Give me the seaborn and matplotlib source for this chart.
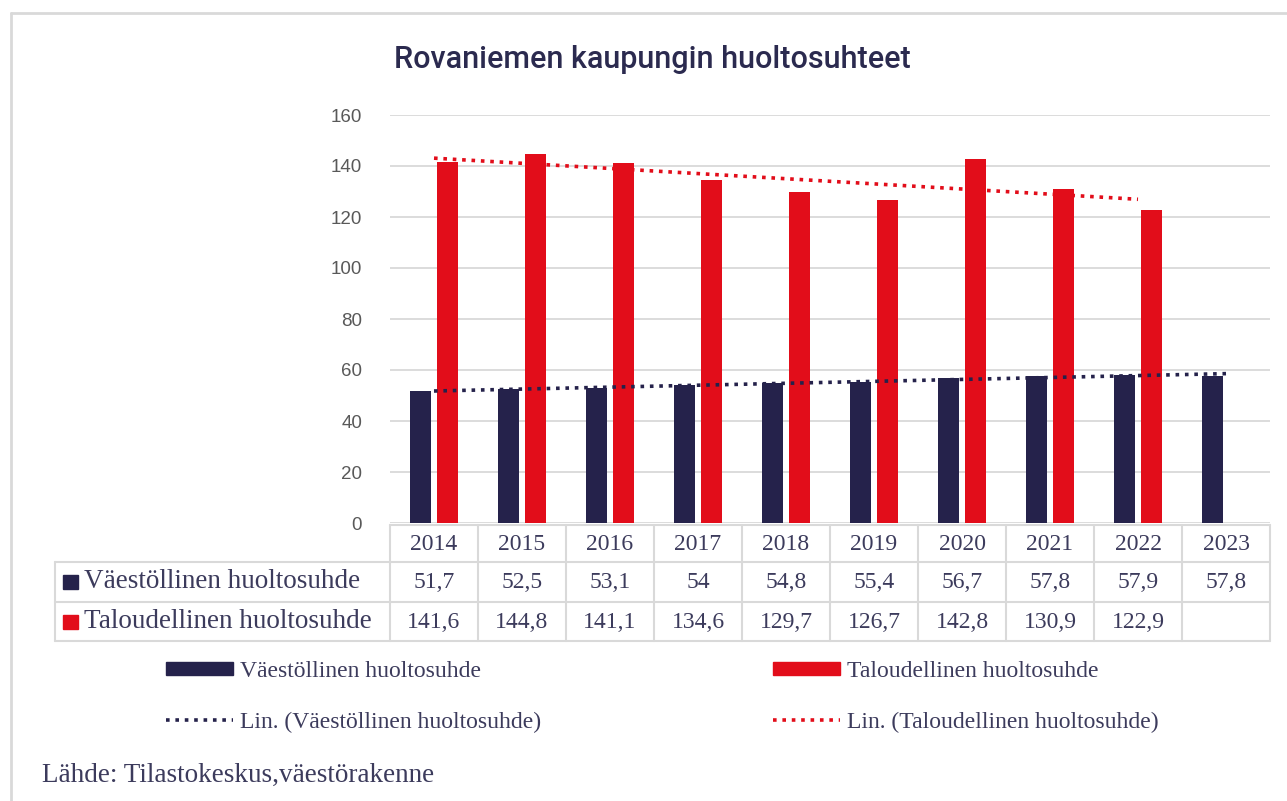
import numpy as np
import pandas as pd
import matplotlib
matplotlib.use("Agg")
import matplotlib.pyplot as plt
from matplotlib.transforms import blended_transform_factory
from matplotlib.patches import Rectangle, Patch
from matplotlib.lines import Line2D
import seaborn as sns

# ---- data ----
years = ["2014", "2015", "2016", "2017", "2018", "2019", "2020", "2021", "2022", "2023"]
vaestollinen = [51.7, 52.5, 53.1, 54.0, 54.8, 55.4, 56.7, 57.8, 57.9, 57.8]
taloudellinen = [141.6, 144.8, 141.1, 134.6, 129.7, 126.7, 142.8, 130.9, 122.9, np.nan]
series_names = ["Väestöllinen huoltosuhde", "Taloudellinen huoltosuhde"]
title = "Rovaniemen kaupungin huoltosuhteet"
source = "Lähde: Tilastokeskus,väestörakenne"
yticks = [0, 20, 40, 60, 80, 100, 120, 140, 160]

NAVY = "#25224b"
RED = "#e20d1a"
GRID = "#d9d9d9"
TXT = "#3c3b5c"

sns.set_theme(style="white")
plt.rcParams["font.family"] = ["Liberation Serif", "DejaVu Serif"]

W, H = 1287, 801
fig = plt.figure(figsize=(W / 100, H / 100), dpi=100)
fy = lambda y: 1 - y / H
fx = lambda x: x / W

ax = fig.add_axes([fx(390), fy(523), fx(1270) - fx(390), fy(115) - fy(523)])

df = pd.DataFrame({
    "year": years * 2,
    "value": list(vaestollinen) + list(taloudellinen),
    "series": [series_names[0]] * len(years) + [series_names[1]] * len(years),
})
sns.barplot(data=df, x="year", y="value", hue="series", order=years,
            hue_order=series_names, palette=[NAVY, RED], width=0.612, gap=0.22,
            errorbar=None, legend=False, ax=ax, linewidth=0, saturation=1)

# linear trendlines (Excel style)
xs = np.arange(len(years))
v = np.array(vaestollinen)
p1 = np.polyfit(xs, v, 1)
ax.plot(xs, np.polyval(p1, xs), color=NAVY, lw=2.6, ls=(0, (1, 1.6)), zorder=5)
t = np.array(taloudellinen)
m = ~np.isnan(t)
p2 = np.polyfit(xs[m], t[m], 1)
ax.plot(xs[m], np.polyval(p2, xs[m]), color=RED, lw=2.6, ls=(0, (1, 1.6)), zorder=5)

ax.set_xlim(-0.5, len(years) - 0.5)
ax.set_ylim(0, 160)
ax.set_yticks(yticks)
ax.set_yticklabels([str(y) for y in yticks], family=["Liberation Sans"], fontsize=13.5, color="#595959")
ax.tick_params(axis="y", length=0, pad=20)
ax.set_xticks([])
ax.set_xlabel("")
ax.set_ylabel("")
ax.grid(axis="y", color=GRID, lw=1.3)
ax.set_axisbelow(True)
for s in ax.spines.values():
    s.set_visible(False)

# ---- data table ----
tr = blended_transform_factory(ax.transData, fig.transFigure)
ftr = fig.transFigure
row_edges = [525, 562, 602, 641]
lkw = dict(color=GRID, lw=1.5, clip_on=False)
fig.add_artist(Line2D([fx(390), fx(1270)], [fy(525), fy(525)], transform=ftr, **lkw))
for y in row_edges[1:]:
    fig.add_artist(Line2D([fx(55), fx(1270)], [fy(y), fy(y)], transform=ftr, **lkw))
for i in range(len(years) + 1):
    ax.add_line(Line2D([i - 0.5, i - 0.5], [fy(525), fy(641)], transform=tr, **lkw))
fig.add_artist(Line2D([fx(55), fx(55)], [fy(562), fy(641)], transform=ftr, **lkw))

fmt = lambda val: "" if np.isnan(val) else f"{val:g}".replace(".", ",")
tfs = 17
for i, yr in enumerate(years):
    ax.text(i, fy(544), yr, transform=tr, ha="center", va="center", fontsize=tfs, color=TXT)
    ax.text(i, fy(582), fmt(vaestollinen[i]), transform=tr, ha="center", va="center", fontsize=tfs, color=TXT)
    ax.text(i, fy(622), fmt(taloudellinen[i]), transform=tr, ha="center", va="center", fontsize=tfs, color=TXT)

for name, col, yc in [(series_names[0], NAVY, 582), (series_names[1], RED, 622)]:
    fig.add_artist(Rectangle((fx(63), fy(yc + 7)), fx(15), 14 / H, transform=ftr, color=col))
    fig.text(fx(84), fy(yc), name, ha="left", va="center", fontsize=19.5, color=TXT)

# ---- title ----
fig.text(fx(652), fy(60), title, ha="center", va="center", fontsize=22, fontweight="medium",
         family=["Roboto", "DejaVu Sans"], color="#2b2a4f")

# ---- legends ----
lfs = 17
lines_style = dict(lw=2.6, ls=(0, (1, 1.6)))
for xpos, name, col in [(166, series_names[0], NAVY), (773, series_names[1], RED)]:
    handles = [Patch(facecolor=col, edgecolor=col),
               Line2D([], [], color=col, **lines_style)]
    labels = [name, f"Lin. ({name})"]
    fig.legend(handles, labels, loc="upper left", bbox_to_anchor=(fx(xpos), fy(661)),
               frameon=False, fontsize=lfs, handlelength=2.85, handleheight=0.45,
               handletextpad=0.3, labelspacing=1.25, borderaxespad=0, borderpad=0,
               labelcolor=TXT)

# ---- source ----
fig.text(fx(42), fy(775), source, ha="left", va="center", fontsize=19.5, color=TXT)

# ---- frame ----
fig.add_artist(Line2D([fx(11), fx(11)], [fy(13), 0], transform=ftr, color="#d9d9d9", lw=2))
fig.add_artist(Line2D([fx(11), 1], [fy(13), fy(13)], transform=ftr, color="#d9d9d9", lw=2))

fig.savefig("out.png", dpi=100, facecolor="white")
